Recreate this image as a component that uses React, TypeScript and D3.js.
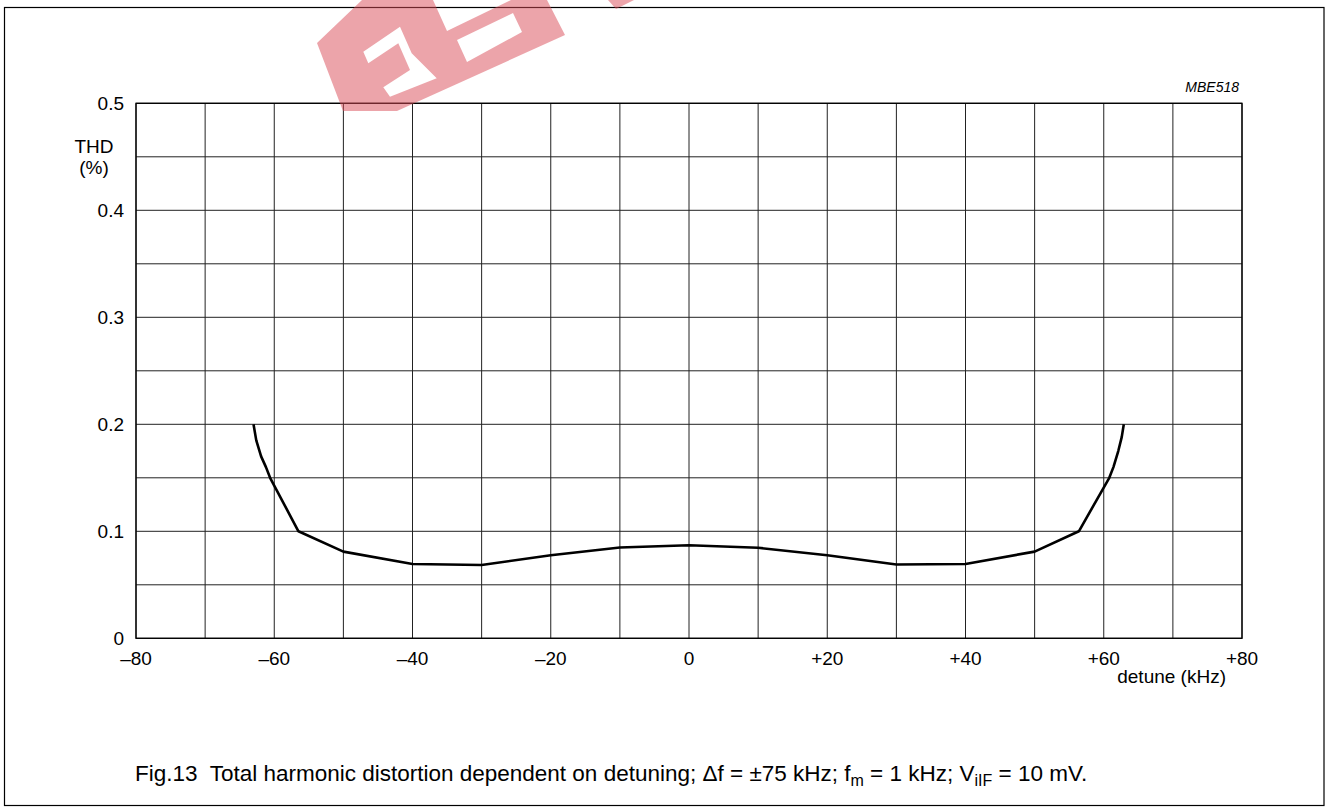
import React from "react";
import * as d3 from "d3";

const detune = [-63, -62.6, -61.9, -61.2, -60.6, -56.5, -50, -40, -30, -20, -10, 0, 10, 20, 30, 40, 50, 56.4, 60.8, 61.4, 62.1, 62.6, 62.9];
const thd = [0.2, 0.185, 0.17, 0.16, 0.15, 0.1, 0.081, 0.0695, 0.0685, 0.0776, 0.0848, 0.0869, 0.0846, 0.0776, 0.069, 0.0695, 0.081, 0.1, 0.15, 0.16, 0.175, 0.188, 0.2];

const xTickValues = [-80, -60, -40, -20, 0, 20, 40, 60, 80];
const xTickLabels = ["\u201380", "\u201360", "\u201340", "\u201320", "0", "+20", "+40", "+60", "+80"];
const yTickValues = [0, 0.1, 0.2, 0.3, 0.4, 0.5];
const yTickLabels = ["0", "0.1", "0.2", "0.3", "0.4", "0.5"];

const FONT = "'Liberation Sans', Arial, Helvetica, sans-serif";

export default function App() {
  const x = d3.scaleLinear().domain([-80, 80]).range([136, 1242]);
  const y = d3.scaleLinear().domain([0, 0.5]).range([638.3, 103.3]);
  const vGrid = d3.range(-80, 81, 10);
  const hGrid = d3.range(0, 0.5001, 0.05);
  const pts: [number, number][] = detune.map((d, i) => [d, thd[i]]);
  const line = d3
    .line<[number, number]>()
    .x((d) => x(d[0]))
    .y((d) => y(d[1]))
    .curve(d3.curveLinear);

  const wmBand = "M317,43 L362,0 L547,0 L565,35 L397,111 L343,111 Z";
  const wmG1 = "M363.3,51.7 L400,26.7 L411.7,53.3 L436.7,78.3 L390,96.7 L383.3,87.3 L410,70 L398.3,43.3 L368.3,63.3 Z";
  const wmG2a = "M457,40 L513,13 L522,32 L467,62 Z";
  const wmG2b = "M447,31 L433,0 L511,0 Z";

  return (
    <svg
      width={1326}
      height={812}
      style={{ position: "absolute", left: 0, top: 0, background: "#fff" }}
      fontFamily={FONT}
    >
      <rect x={0} y={0} width={1326} height={812} fill="#fff" />
      <rect x={4.5} y={7.5} width={1319.5} height={798} fill="none" stroke="#000" strokeWidth={1.2} />

      {vGrid.map((v) => (
        <line key={"v" + v} x1={x(v)} x2={x(v)} y1={y(0)} y2={y(0.5)} stroke="#222" strokeWidth={1} />
      ))}
      {hGrid.map((v) => (
        <line key={"h" + v} x1={x(-80)} x2={x(80)} y1={y(v)} y2={y(v)} stroke="#222" strokeWidth={1} />
      ))}
      <rect x={x(-80)} y={y(0.5)} width={x(80) - x(-80)} height={y(0) - y(0.5)} fill="none" stroke="#000" strokeWidth={1.3} />

      <path d={line(pts) || ""} fill="none" stroke="#000" strokeWidth={2.6} strokeLinejoin="round" />

      {yTickValues.map((v, i) => (
        <text key={"yl" + v} x={124} y={y(v)} dy="0.36em" textAnchor="end" fontSize={19} fill="#000">
          {yTickLabels[i]}
        </text>
      ))}
      {xTickValues.map((v, i) => (
        <text key={"xl" + v} x={x(v)} y={665} textAnchor="middle" fontSize={19} fill="#000">
          {xTickLabels[i]}
        </text>
      ))}

      <text x={94} y={153} textAnchor="middle" fontSize={19} fill="#000">THD</text>
      <text x={94} y={174} textAnchor="middle" fontSize={19} fill="#000">(%)</text>
      <text x={1226} y={683} textAnchor="end" fontSize={19} fill="#000">detune (kHz)</text>
      <text x={1239} y={92} textAnchor="end" fontSize={14} fontStyle="italic" fill="#000">MBE518</text>

      <text x={135} y={781} fontSize={22.5} fill="#000" style={{ whiteSpace: "pre" }}>
        <tspan>{"Fig.13  Total harmonic distortion dependent on detuning; \u0394f = \u00b175 kHz; f"}</tspan>
        <tspan fontSize={16} dy={5}>m</tspan>
        <tspan dy={-5}>{" = 1 kHz; V"}</tspan>
        <tspan fontSize={16} dy={5}>iIF</tspan>
        <tspan dy={-5}>{" = 10 mV."}</tspan>
      </text>

      <path d={wmBand + " " + wmG1 + " " + wmG2a + " " + wmG2b} fill="#d94a55" fillOpacity={0.5} fillRule="evenodd" />
      <path d="M608,0 L634,0 L616,9 Z" fill="#d94a55" fillOpacity={0.5} />
    </svg>
  );
}
